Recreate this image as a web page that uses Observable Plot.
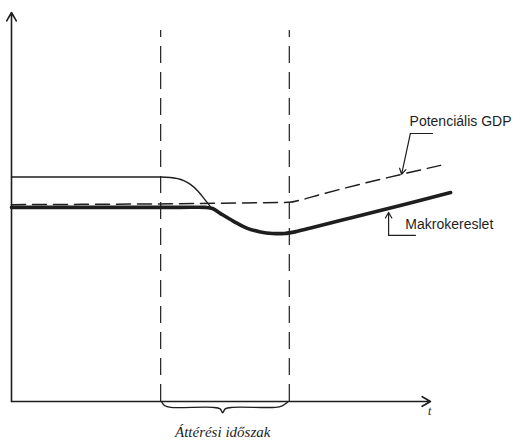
<!DOCTYPE html>
<html>
<head>
<meta charset="utf-8">
<script src="https://cdn.jsdelivr.net/npm/d3@7"></script>
<script src="https://cdn.jsdelivr.net/npm/@observablehq/plot@0.6"></script>
<style>
  html, body { margin: 0; padding: 0; background: #fff; }
  #chart svg { display: block; }
</style>
</head>
<body>
<div id="chart"></div>
<script>
// Time (t, 0–100) and level (0–100)
const transitionStart = 35.6;
const transitionEnd = 66.3;
const transitionTop = 95.4;

// Thin line: initial (higher) demand before transition, merging into demand curve
const thinT = [0, 35.6, 37.9, 41.1, 42.7, 44.4, 46.3, 47.6];
const thinV = [57.7, 57.7, 57.6, 56.8, 55.8, 54.2, 51.7, 49.9];

// Makrokereslet (thick)
const demandT = [0, 23.6, 40.3, 46.3, 48.0, 49.9, 53.0, 56.3, 59.4, 62.3, 65.2, 68.0, 71.4, 80.9, 92.8, 104.8];
const demandV = [49.9, 49.9, 49.9, 49.9, 49.6, 48.3, 46.3, 44.5, 43.6, 43.2, 43.2, 43.7, 44.6, 47.2, 50.4, 53.7];

// Potenciális GDP (dashed)
const gdpT = [0, 66.3, 69.0, 73.7, 102.4];
const gdpV = [50.6, 51.2, 51.8, 53.2, 60.7];

// Brace under the transition period
const braceT = [35.9, 36.6, 38.0, 48.0, 49.8, 50.4, 51.0, 52.8, 63.0, 64.6, 65.9];
const braceV = [-0.2, -1.1, -1.5, -1.5, -1.9, -2.9, -1.9, -1.5, -1.5, -1.1, -0.2];

const labels = ["Potenciális GDP", "Makrokereslet", "Áttérési időszak", "t"];

const toPts = (ts, vs) => ts.map((t, i) => ({t, v: vs[i]}));
const thin = toPts(thinT, thinV);
const demand = toPts(demandT, demandV);
const gdp = toPts(gdpT, gdpV);
const brace = toPts(braceT, braceV);

const ink = "#1e1e1e";

const chart = Plot.plot({
  width: 532,
  height: 444,
  marginLeft: 11,
  marginRight: 102,
  marginTop: 12,
  marginBottom: 43,
  style: {background: "#fff", overflow: "visible"},
  x: {domain: [0, 100], axis: null},
  y: {domain: [0, 100], axis: null},
  marks: [
    // axes with arrowheads
    Plot.arrow([{x1: 0, y1: 0, x2: 0, y2: 100}], {x1: "x1", y1: "y1", x2: "x2", y2: "y2", stroke: ink, strokeWidth: 1.6, headLength: 9}),
    Plot.arrow([{x1: 0, y1: 0, x2: 100, y2: 0}], {x1: "x1", y1: "y1", x2: "x2", y2: "y2", stroke: ink, strokeWidth: 1.6, headLength: 9}),
    // transition period boundaries
    Plot.ruleX([transitionStart, transitionEnd], {y1: 0, y2: transitionTop, stroke: ink, strokeWidth: 1.2, strokeDasharray: "17,9"}),
    // curves
    Plot.line(thin, {x: "t", y: "v", stroke: ink, strokeWidth: 1.4, curve: "monotone-x"}),
    Plot.line(demand, {x: "t", y: "v", stroke: ink, strokeWidth: 3.6, curve: "catmull-rom"}),
    Plot.line(gdp, {x: "t", y: "v", stroke: ink, strokeWidth: 1.5, strokeDasharray: "14,7", curve: "monotone-x"}),
    // brace
    Plot.line(brace, {x: "t", y: "v", stroke: ink, strokeWidth: 1.4, curve: "catmull-rom"}),
    // label pointers
    Plot.line([{t: 100.5, v: 68.9}, {t: 95.2, v: 68.9}], {x: "t", y: "v", stroke: ink, strokeWidth: 1.2}),
    Plot.arrow([{x1: 95.2, y1: 68.9, x2: 93.1, y2: 58.4}], {x1: "x1", y1: "y1", x2: "x2", y2: "y2", stroke: ink, strokeWidth: 1.2, headLength: 8}),
    Plot.line([{t: 96.4, v: 42.7}, {t: 90.0, v: 42.7}], {x: "t", y: "v", stroke: ink, strokeWidth: 1.2}),
    Plot.arrow([{x1: 90.0, y1: 42.7, x2: 90.0, y2: 48.6}], {x1: "x1", y1: "y1", x2: "x2", y2: "y2", stroke: ink, strokeWidth: 1.2, headLength: 8}),
    // texts
    Plot.text([labels[0]], {x: 95.0, y: 71.9, text: d => d, textAnchor: "start", fontSize: 14, fontFamily: "Liberation Sans", fill: ink, style: "letter-spacing:1.2px"}),
    Plot.text([labels[1]], {x: 94.0, y: 45.5, text: d => d, textAnchor: "start", fontSize: 14, fontFamily: "Liberation Sans", fill: ink, style: "letter-spacing:0.7px"}),
    Plot.text([labels[2]], {x: 50.4, y: -8.0, text: d => d, textAnchor: "middle", fontSize: 15, fontStyle: "italic", fontFamily: "Liberation Serif", fill: ink, style: "letter-spacing:2.4px"}),
    Plot.text([labels[3]], {x: 99.8, y: -2.6, text: d => d, textAnchor: "middle", fontSize: 12, fontStyle: "italic", fontFamily: "Liberation Serif", fill: ink})
  ]
});
document.getElementById("chart").appendChild(chart);
</script>
</body>
</html>
